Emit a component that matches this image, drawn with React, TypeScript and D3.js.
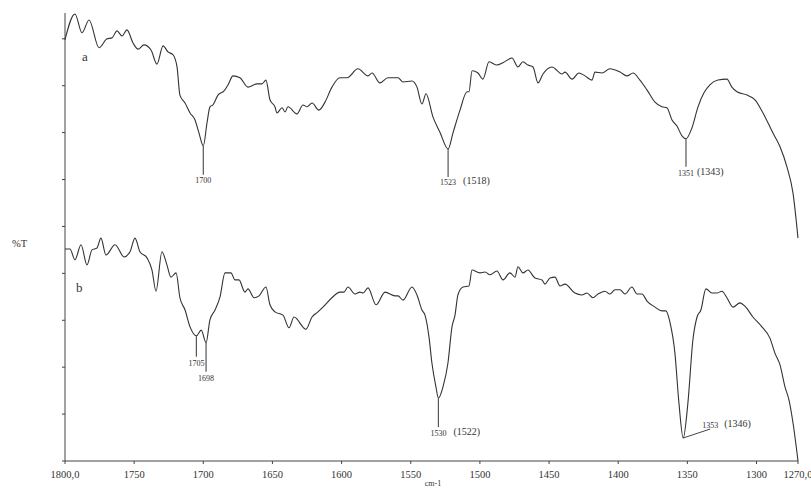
import React from "react";
import * as d3 from "d3";

// Wavenumber (cm-1) and transmittance (%T, arbitrary offset units)
const waveA = [1800,1792.8,1787.7,1782.6,1775.4,1769.6,1766,1762.4,1758.8,1755.2,1750.8,1747.2,1742.9,1737.8,1733.5,1729.1,1725.5,1721.9,1719,1716.9,1713.2,1709.6,1706,1703.1,1700,1697.3,1695.2,1693,1689.4,1685,1682.1,1678.5,1673.5,1667.7,1661.2,1657.6,1654.7,1651.8,1648.2,1646.7,1643.1,1640.9,1638.8,1632.3,1627.9,1625,1621.4,1616.4,1612,1607,1601.2,1596.1,1588.2,1580.9,1578,1572.3,1566.5,1559.2,1555.6,1549.1,1545.5,1541.9,1539,1533.9,1528.9,1523,1519.5,1514.4,1509.3,1507.9,1505.7,1501.4,1497.8,1493.4,1487.7,1483.3,1476.8,1472.5,1468.9,1465.3,1461.6,1458,1454.4,1447.9,1440.7,1438.5,1433.4,1428.4,1424,1419,1416.8,1411.7,1406,1398.7,1393.7,1389.3,1384.3,1379.2,1373.4,1368.4,1364.8,1361.1,1357.5,1353.9,1351,1346.7,1342.3,1338,1333.7,1327.9,1321.4,1317.8,1314.1,1306.9,1301.1,1295.3,1288.1,1283,1278,1273.6,1270];
const transA = [89.8,95.3,91.3,94.0,88.1,90.0,90.2,91.7,90.6,91.9,89.1,87.8,88.7,87.6,84.6,88.5,87.2,86.6,84.0,78.0,76.3,74.2,72.7,69.9,67.2,72.1,75.5,75.9,78.0,78.9,80.2,82.1,81.7,79.7,80.4,80.4,81.2,77.0,75.5,74.2,75.3,74.4,75.5,74.0,75.9,75.5,76.3,74.8,76.5,79.7,81.7,81.7,83.6,82.1,82.7,80.6,81.7,81.7,80.8,81.0,79.7,76.1,78.3,73.3,70.1,66.5,69.9,74.8,78.7,78.7,83.2,82.7,81.4,85.1,84.4,84.9,85.9,84.0,85.1,84.4,84.0,80.6,82.5,84.0,82.5,82.9,81.4,82.7,82.1,81.2,82.9,82.7,83.6,82.9,82.1,82.7,81.2,79.1,76.5,75.5,75.3,72.7,71.4,69.3,68.7,71.0,75.5,78.5,80.2,81.2,81.4,79.7,78.7,78.0,77.0,74.2,69.9,67.0,62.7,57.1,47.5];

const waveB = [1800,1796.4,1792.8,1788.4,1784.1,1780.5,1776.9,1774,1770.4,1763.8,1757.3,1753,1749.4,1745.8,1740.7,1737.1,1734.2,1729.9,1726.3,1723.4,1719.7,1716.9,1713.2,1709.6,1705,1701.5,1698,1695.2,1691.5,1687.9,1684.3,1680,1677.1,1674.2,1669.9,1667.7,1663.3,1659.7,1654.7,1651.8,1648.2,1642.4,1638,1634.4,1625.8,1621.4,1617.1,1613.5,1607,1601.2,1598.3,1595.4,1590.3,1586.7,1584.5,1580.9,1575.1,1568.6,1561.4,1559.2,1555.6,1549.1,1545.5,1541.9,1539.7,1536.8,1534.7,1531.8,1530,1526.7,1523.1,1520.2,1518,1515.9,1512.2,1507.9,1505.7,1500,1496.3,1492.7,1487.7,1483.3,1478.3,1474.6,1472.5,1468.9,1465.3,1460.2,1455.1,1453,1449.3,1445.7,1442.1,1438.5,1431.3,1426.2,1422.6,1418.3,1414.6,1409.6,1406,1402.3,1398.7,1395.1,1390.1,1386.4,1382.8,1379.2,1373.4,1368.4,1365.5,1362.6,1359,1356.1,1353,1349.6,1346,1343,1340.2,1336.6,1332.2,1328.6,1325,1321.4,1317,1312,1308.4,1302.6,1296.1,1290.3,1286.7,1283,1279.4,1276.5,1273.6,1270];
const transB = [45.2,45.2,42.9,46.1,41.8,45.0,45.4,47.5,43.9,46.1,43.5,44.6,47.5,44.6,43.3,40.7,36.2,44.6,41.8,39.2,40.1,34.8,32.2,28.6,26.7,27.9,25.2,30.1,32.2,35.0,40.1,40.1,38.6,38.6,36.0,36.7,34.8,35.2,37.1,33.3,31.8,31.1,28.4,30.7,28.1,30.7,31.8,32.8,34.8,36.0,36.0,37.1,35.6,36.0,35.8,36.9,33.3,36.0,35.2,35.2,34.3,37.1,35.4,32.2,31.1,26.4,20.9,15.8,13.4,15.8,20.9,28.6,31.1,35.4,37.1,37.3,40.7,40.1,40.3,39.7,40.5,38.6,40.1,39.2,41.4,40.1,40.7,39.0,38.6,37.7,39.0,39.2,37.3,37.7,35.8,35.4,35.8,34.8,35.6,36.2,35.6,36.5,36.5,35.6,37.1,35.6,35.6,34.1,32.8,32.0,32.0,29.6,23.0,12.4,4.9,12.4,25.8,30.7,32.2,36.7,35.8,35.8,36.2,34.8,32.8,33.7,33.0,30.7,28.6,26.2,23.0,20.5,15.8,13.0,8.1,0];

const xTickValues = [1800,1750,1700,1650,1600,1550,1500,1450,1400,1350,1300,1270];
const xTickLabels = ["1800,0","1750","1700","1650","1600","1550","1500","1450","1400","1350","1300","1270,0"];
const yTickValues = [0,10,20,30,40,50,60,70,80,90];

const seriesNames = ["a", "b"];
const peakWaveA = [1700, 1523, 1351];
const peakLabelA = ["1700", "1523", "1351"];
const peakParenA = ["", "(1518)", "(1343)"];
const peakWaveB = [1705, 1698, 1530, 1353];
const peakLabelB = ["1705", "1698", "1530", "1353"];
const peakParenB = ["", "", "(1522)", "(1346)"];

// layout (pixels)
const W = 811, H = 489;
const X0 = 65, X1 = 798, YB = 461, YT = 13;
const layoutA = [
  { len: 29, ly: 37, px: 0 },
  { len: 28, ly: 36, px: 15 },
  { len: 28, ly: 37, px: 11 },
];
const layoutB = [
  { len: 21, ly: 30, px: 0 },
  { len: 29, ly: 38, px: 0 },
  { len: 29, ly: 38, px: 15 },
  { len: 0, ly: -10, px: 14, slant: true },
];

const FONT = "'Liberation Serif', 'DejaVu Serif', serif";

export default function App() {
  const x = d3.scaleLinear().domain([1800, 1270]).range([X0, X1]);
  const y = d3.scaleLinear().domain([0, 95.5]).range([YB, YT]);
  const line = d3
    .line<[number, number]>()
    .x((d) => x(d[0]))
    .y((d) => y(d[1]))
    .curve(d3.curveMonotoneX);

  const dataA: [number, number][] = waveA.map((w, i) => [w, transA[i]]);
  const dataB: [number, number][] = waveB.map((w, i) => [w, transB[i]]);
  const lookup = (data: [number, number][], w: number) =>
    data.reduce((best, d) => (Math.abs(d[0] - w) < Math.abs(best[0] - w) ? d : best), data[0]);

  const renderAnn = (
    data: [number, number][],
    waves: number[],
    labels: string[],
    parens: string[],
    layout: any[],
    key: string
  ) =>
    waves.map((w, i) => {
      const p = lookup(data, w);
      const px = x(w);
      const py = y(p[1]);
      const L = layout[i];
      if (L.slant) {
        return (
          <g key={key + i}>
            <line x1={px} y1={py} x2={px + 27} y2={py - 9} stroke="#444" strokeWidth={1} />
            <text x={px + 27} y={py + L.ly} fontSize={8} textAnchor="middle" fontFamily={FONT} fill="#333">
              {labels[i]}
            </text>
            <text x={px + 41} y={py + L.ly - 1} fontSize={10} fontFamily={FONT} fill="#333">
              {parens[i]}
            </text>
          </g>
        );
      }
      return (
        <g key={key + i}>
          <line x1={px} y1={py} x2={px} y2={py + L.len} stroke="#555" strokeWidth={1.2} />
          <text x={px} y={py + L.ly} fontSize={8} textAnchor="middle" fontFamily={FONT} fill="#333">
            {labels[i]}
          </text>
          {parens[i] && (
            <text x={px + L.px} y={py + L.ly - 1} fontSize={10} fontFamily={FONT} fill="#333">
              {parens[i]}
            </text>
          )}
        </g>
      );
    });

  return (
    <svg
      width={W}
      height={H}
      style={{ position: "absolute", left: 0, top: 0, background: "#fff" }}
    >
      <rect width={W} height={H} fill="#fff" />
      {/* y axis */}
      <line x1={X0} y1={YT} x2={X0} y2={YB} stroke="#444" strokeWidth={1} />
      {yTickValues.map((t) => (
        <line key={"yt" + t} x1={X0 - 3} x2={X0} y1={y(t)} y2={y(t)} stroke="#444" />
      ))}
      <text x={12} y={247} fontSize={10.5} fontFamily={FONT} fill="#333">%T</text>
      {/* x axis */}
      <line x1={X0} y1={YB} x2={X1} y2={YB} stroke="#444" strokeWidth={1} />
      {xTickValues.map((t, i) => (
        <g key={"xt" + t}>
          <line x1={x(t)} x2={x(t)} y1={YB} y2={YB + 3} stroke="#444" />
          <text x={x(t)} y={YB + 17} fontSize={10.5} textAnchor="middle" fontFamily={FONT} fill="#333">
            {xTickLabels[i]}
          </text>
        </g>
      ))}
      <text x={433} y={486} fontSize={8} textAnchor="middle" fontFamily={FONT} fill="#333">cm-1</text>
      {/* curves */}
      <path d={line(dataA) || ""} fill="none" stroke="#333" strokeWidth={1.1} />
      <path d={line(dataB) || ""} fill="none" stroke="#333" strokeWidth={1.1} />
      <text x={82} y={61} fontSize={13} fontFamily={FONT} fill="#333">{seriesNames[0]}</text>
      <text x={76} y={292} fontSize={13} fontFamily={FONT} fill="#333">{seriesNames[1]}</text>
      {renderAnn(dataA, peakWaveA, peakLabelA, peakParenA, layoutA, "a")}
      {renderAnn(dataB, peakWaveB, peakLabelB, peakParenB, layoutB, "b")}
    </svg>
  );
}
